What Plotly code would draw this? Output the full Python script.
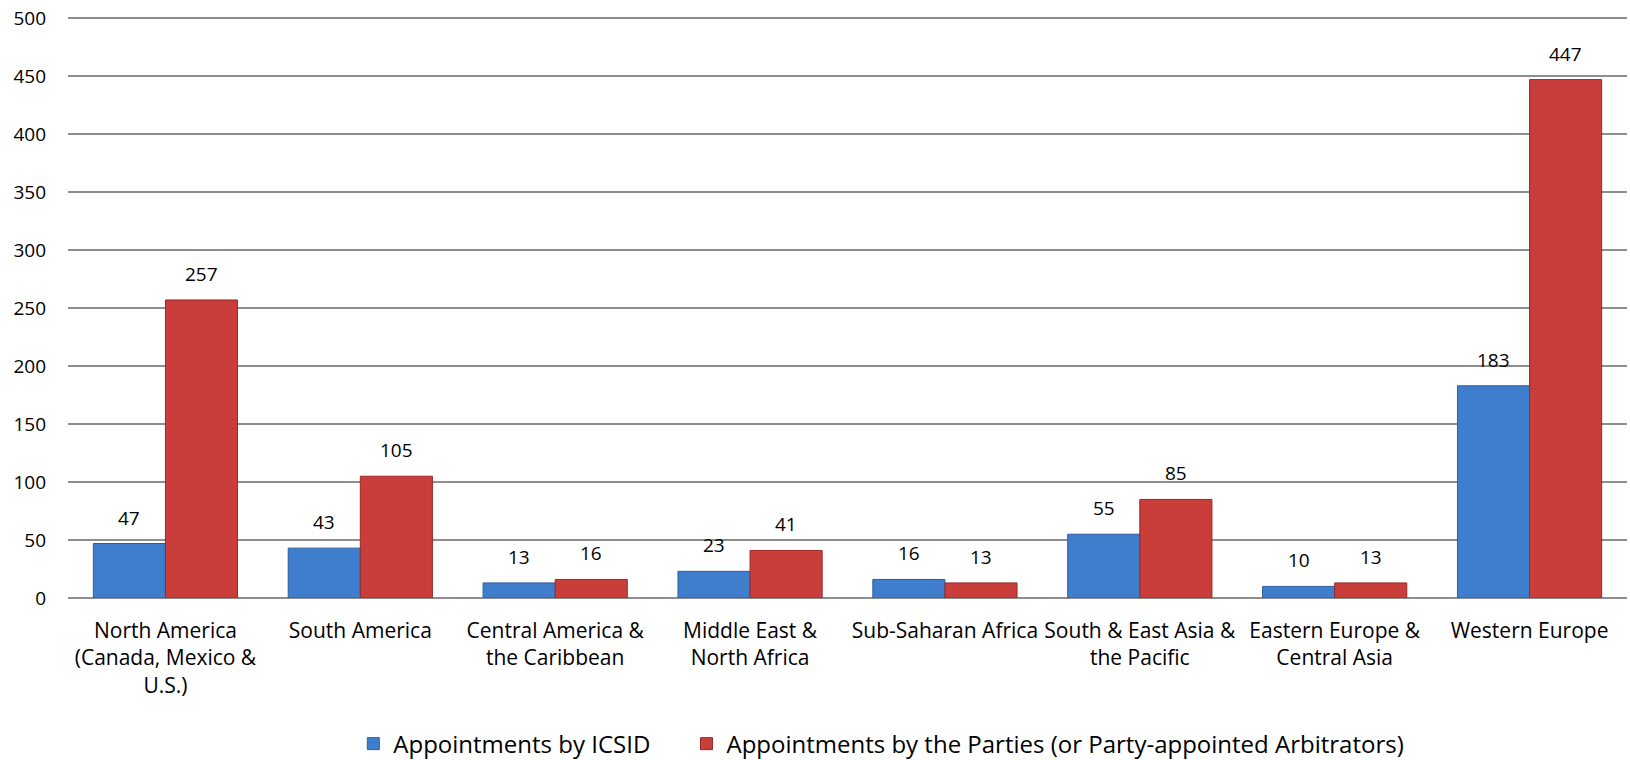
import plotly.graph_objects as go

categories = [
    "North America<br>(Canada, Mexico &<br>U.S.)",
    "South America",
    "Central America &<br>the Caribbean",
    "Middle East &<br>North Africa",
    "Sub-Saharan Africa",
    "South & East Asia &<br>the Pacific",
    "Eastern Europe &<br>Central Asia",
    "Western Europe",
]
icsid = [47, 43, 13, 23, 16, 55, 10, 183]
parties = [257, 105, 16, 41, 13, 85, 13, 447]
series_names = [
    "Appointments by ICSID",
    "Appointments by the Parties (or Party-appointed Arbitrators)",
]
y_ticks = [0, 50, 100, 150, 200, 250, 300, 350, 400, 450, 500]

FONT = "Open Sans"
W, H = 1630, 760
ML, MR, MT, MB = 68, 3, 17, 162
BARGAP = 0.26

plot_w = W - ML - MR
cat_w = plot_w / len(categories)
bar_w = cat_w * (1 - BARGAP) / 2

fig = go.Figure()
fig.add_trace(go.Bar(
    name=series_names[0] + "\u00a0" * 5, x=categories, y=icsid,
    marker=dict(color="#3F7ECD", line=dict(color="#2E5E9E", width=1)),
))
fig.add_trace(go.Bar(
    name=series_names[1], x=categories, y=parties,
    marker=dict(color="#C93D3B", line=dict(color="#952A29", width=1)),
))

# value labels above bars
for vals, sign in ((icsid, -1), (parties, 1)):
    for c, v in zip(categories, vals):
        fig.add_annotation(
            x=c, y=v, xref="x", yref="y", text=str(v), showarrow=False,
            xshift=sign * bar_w / 2, yshift=11, yanchor="bottom",
            font=dict(family=FONT, size=19, color="#000000"),
        )

fig.update_layout(
    width=W, height=H,
    barmode="group", bargap=BARGAP, bargroupgap=0,
    plot_bgcolor="white", paper_bgcolor="white",
    margin=dict(l=ML, r=MR, t=MT, b=MB, autoexpand=False),
    font=dict(family=FONT, size=19, color="#000000"),
    legend=dict(orientation="h", x=0.183, xanchor="left",
                yref="container", y=0.021, yanchor="middle",
                font=dict(family=FONT, size=24), traceorder="normal",
                bgcolor="rgba(0,0,0,0)"),
    showlegend=True,
)
fig.update_xaxes(
    tickfont=dict(family=FONT, size=21), showline=False, ticks="",
    tickangle=0, automargin=False, ticklabelstandoff=18,
)
fig.update_yaxes(
    range=[0, 501], tickvals=y_ticks, showgrid=True, gridcolor="#8E8E8E",
    gridwidth=1.6, zeroline=True, zerolinecolor="#8E8E8E", zerolinewidth=1.6,
    tickfont=dict(family=FONT, size=19), ticklabelstandoff=21, ticks="",
    automargin=False,
)

fig.write_html(
    "out.html",
    config={"displayModeBar": False},
    post_script="document.body.style.margin='0';document.body.style.overflow='hidden';",
)
